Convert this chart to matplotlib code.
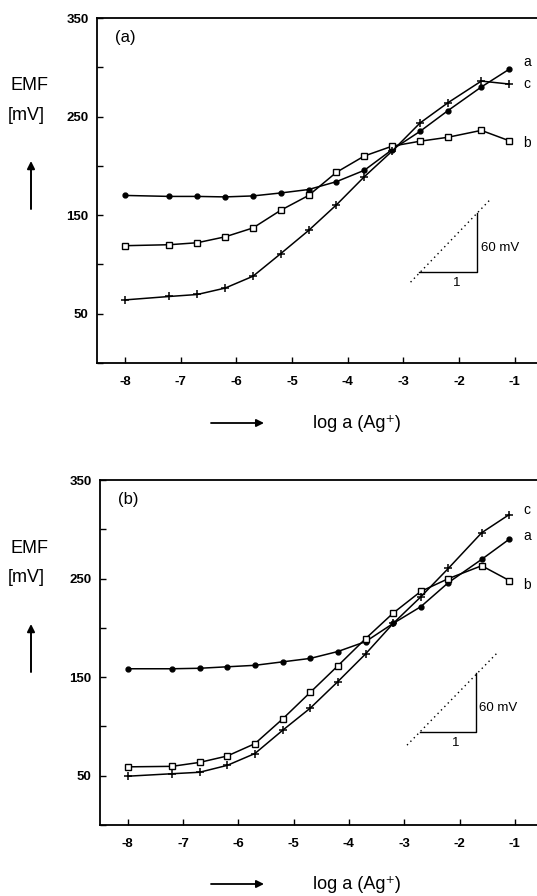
import matplotlib.pyplot as plt

plt.rcParams['font.family'] = ['Liberation Sans', 'DejaVu Sans']

# log a(Ag+) values
log_a = [-8, -7.2, -6.7, -6.2, -5.7, -5.2, -4.7, -4.2, -3.7, -3.2, -2.7, -2.2, -1.6, -1.1]

# panel (a), EMF in mV
a_top = [170, 169, 169, 168.5, 169.5, 172.5, 176, 184, 195.5, 216.5, 235, 256, 280, 298]
b_top = [119, 120, 122, 128, 137, 155, 170, 193.5, 210, 220, 225, 229, 236, 225.5]
c_top = [64, 67.5, 69.5, 76, 88, 111, 134.5, 160.5, 189, 215, 243.5, 264, 286, 283]

# panel (b), EMF in mV
a_bot = [158.5, 158.5, 159, 160.5, 162, 165.5, 169, 176, 186, 204.5, 221.5, 246, 269.5, 290]
b_bot = [59, 59.5, 63.5, 70, 82.5, 107.5, 134.5, 161.5, 189, 215, 237, 250, 263, 248]
c_bot = [49.5, 52, 53.5, 60.5, 72.5, 96, 118.5, 145.5, 173.5, 204.5, 231.5, 260.5, 296.5, 315]

x_ticks = [-8, -7, -6, -5, -4, -3, -2, -1]
y_ticks = [0, 50, 100, 150, 200, 250, 300, 350]
y_labels = ['', '50', '', '150', '', '250', '', '350']

W, H = 537, 896
fig = plt.figure(figsize=(W / 100, H / 100), dpi=100)


def fx(px):
    return px / W


def fy(py):
    return 1 - py / H


def panel(rect, a, b, c, tag, lab_y, tri):
    ax = fig.add_axes(rect)
    ax.plot(log_a, a, '-', color='black', lw=1.1, marker='o', ms=3.5, mfc='black', mec='black')
    ax.plot(log_a, b, '-', color='black', lw=1.1, marker='s', ms=4.3, mfc='white', mec='black', mew=1.0)
    ax.plot(log_a, c, '-', color='black', lw=1.1, marker='+', ms=5.5, mew=1.1)
    ax.set_xlim(-8.5, -0.6)
    ax.set_ylim(0, 350)
    ax.set_xticks(x_ticks)
    ax.set_xticklabels([str(t) for t in x_ticks])
    ax.set_yticks(y_ticks)
    ax.set_yticklabels(y_labels)
    ax.tick_params(direction='in', length=4, width=1, labelsize=9.5, pad=6)
    ax.tick_params(axis='x', pad=9)
    for lbl in ax.get_xticklabels() + ax.get_yticklabels():
        lbl.set_fontweight('bold')
    ax.spines['right'].set_visible(False)
    for s in ['left', 'bottom', 'top']:
        ax.spines[s].set_linewidth(1.3)
    ax.text(-8.18, 330, tag, fontsize=12, ha='left', va='center')
    for name, yy in zip(['a', 'b', 'c'], lab_y):
        ax.text(-0.85, yy, name, fontsize=10, ha='left', va='center')
    # slope triangle
    x0, x1, y0, y1, d0, d1 = tri
    ax.plot([x0, x1, x1], [y0, y0, y0 + 60], color='black', lw=1.0)
    ax.plot([d0[0], d1[0]], [d0[1], d1[1]], color='black', lw=1.0, ls=(0, (1, 2.5)))
    ax.text(x1 + 0.07, y0 + 25, '60 mV', fontsize=9.5, ha='left', va='center')
    ax.text((x0 + x1) / 2 + 0.15, y0 - 11, '1', fontsize=9.5, ha='center', va='center')
    return ax


panel([fx(97), fy(363), 1 - fx(97), (363 - 18) / H], a_top, b_top, c_top, '(a)',
      [305, 223, 283], (-2.72, -1.68, 92, 152, (-2.87, 82), (-1.42, 167)))
panel([fx(100), fy(825), 1 - fx(100), (825 - 480) / H], a_bot, b_bot, c_bot, '(b)',
      [293, 243, 320], (-2.72, -1.71, 94, 154, (-2.95, 81), (-1.33, 174)))

# axis captions with arrows
for off in (0, 463):
    fig.text(fx(10), fy(85 + off), 'EMF', fontsize=13, ha='left', va='center')
    fig.text(fx(8), fy(115 + off), '[mV]', fontsize=13, ha='left', va='center')
    fig.add_artist(plt.Annotation('', xy=(fx(31), fy(161 + off)), xytext=(fx(31), fy(209 + off)),
                                  xycoords='figure fraction', textcoords='figure fraction',
                                  arrowprops=dict(arrowstyle='-|>', color='black', lw=1.4,
                                                  mutation_scale=11, shrinkA=0, shrinkB=0)))
for yy in (423, 884):
    fig.text(fx(313), fy(yy), 'log a (Ag⁺)', fontsize=13, ha='left', va='center')
    fig.add_artist(plt.Annotation('', xy=(fx(264), fy(yy)), xytext=(fx(211), fy(yy)),
                                  xycoords='figure fraction', textcoords='figure fraction',
                                  arrowprops=dict(arrowstyle='-|>', color='black', lw=1.3,
                                                  mutation_scale=11, shrinkA=0, shrinkB=0)))

fig.savefig('out.png', dpi=100)
